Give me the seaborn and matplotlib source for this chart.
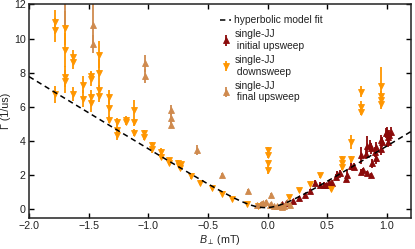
import numpy as np
import pandas as pd
import matplotlib
matplotlib.use("Agg")
import matplotlib.pyplot as plt
import seaborn as sns

# ---- data ----
# initial upsweep (dark red, up triangles)
init_B = [0.12, 0.15, 0.215, 0.26, 0.31, 0.355, 0.395, 0.44, 0.475, 0.49, 0.51, 0.535,
          0.57, 0.585, 0.61, 0.655, 0.665, 0.70, 0.725, 0.785, 0.785, 0.80, 0.825, 0.83,
          0.835, 0.86, 0.87, 0.87, 0.875, 0.90, 0.905, 0.91, 0.95, 0.95, 0.955, 1.0,
          1.005, 1.01, 1.02, 1.03, 0.99]
init_G = [0.33, 0.37, 0.49, 0.69, 0.82, 1.06, 1.55, 1.45, 1.43, 1.40, 1.59, 1.55,
          1.90, 2.05, 2.10, 1.80, 2.00, 2.53, 2.49, 3.18, 2.20, 2.29, 3.27, 3.71,
          2.10, 3.76, 3.57, 2.00, 2.69, 3.37, 3.67, 2.98, 4.06, 3.51, 3.96, 4.55,
          4.25, 3.96, 4.35, 4.55, 4.45]
init_E = [0.08, 0.08, 0.1, 0.1, 0.1, 0.12, 0.15, 0.15, 0.15, 0.12, 0.15, 0.15,
          0.15, 0.2, 0.2, 0.15, 0.3, 0.2, 0.2, 0.5, 0.15, 0.15, 0.3, 0.6,
          0.15, 0.3, 0.3, 0.15, 0.25, 0.3, 0.3, 0.3, 0.3, 0.3, 0.3, 0.3,
          0.3, 0.3, 0.3, 0.3, 0.3]

# downsweep (orange, down triangles)
down_B = [-1.78, -1.78, -1.78, -1.70, -1.70, -1.70, -1.70, -1.63, -1.63, -1.63,
          -1.55, -1.55, -1.48, -1.48, -1.48, -1.48, -1.41, -1.41, -1.41, -1.41,
          -1.33, -1.33, -1.33, -1.26, -1.26, -1.26, -1.19, -1.19, -1.12, -1.12, -1.12,
          -1.04, -1.04, -0.97, -0.97, -0.895, -0.895, -0.825, -0.825,
          -0.755, -0.74, -0.725, -0.735, -0.64, -0.57, -0.47, -0.38, -0.296,
          -0.17, -0.08, 0.0, 0.0, 0.0, 0.0, 0.178, 0.26, 0.355, 0.438, 0.527,
          0.62, 0.62, 0.62, 0.70, 0.70, 0.785, 0.785, 0.785, 0.95, 0.95, 0.95, 0.95]
down_G = [10.96, 10.53, 6.75, 10.63, 9.35, 7.78, 7.49, 8.92, 8.61, 6.75,
          7.29, 6.49, 7.82, 7.63, 6.57, 6.22, 9.06, 7.98, 7.00, 6.61,
          6.57, 5.92, 5.24, 5.14, 4.65, 4.35, 5.24, 5.14, 5.82, 5.10, 4.50,
          4.45, 4.25, 3.76, 3.51, 3.37, 3.08, 2.88, 2.73,
          2.72, 2.55, 2.65, 2.45, 1.94, 1.55, 1.27, 0.92, 0.63,
          0.31, 0.18, 3.47, 3.18, 2.69, 2.29, 0.72, 1.12, 1.48, 2.00, 1.20,
          2.94, 2.69, 2.49, 3.96, 2.92, 6.90, 6.02, 5.73, 7.24, 6.61, 6.41, 6.16]
down_E = [0.7, 0.7, 0.5, 1.0, 1.0, 0.6, 0.7, 0.4, 0.4, 0.4,
          0.5, 0.5, 0.3, 0.4, 0.4, 0.5, 0.8, 0.8, 0.3, 0.3,
          0.4, 0.7, 0.2, 0.2, 0.3, 0.3, 0.2, 0.2, 0.6, 0.2, 0.2,
          0.2, 0.2, 0.2, 0.2, 0.2, 0.15, 0.15, 0.15,
          0.15, 0.15, 0.15, 0.15, 0.15, 0.15, 0.12, 0.1, 0.1,
          0.1, 0.08, 0.2, 0.2, 0.2, 0.2, 0.1, 0.1, 0.12, 0.15, 0.12,
          0.2, 0.2, 0.2, 0.4, 0.2, 0.3, 0.3, 0.2, 1.1, 0.3, 0.3, 0.3]

# final upsweep (tan, up triangles)
fin_B = [-1.70, -1.46, -1.46, -1.024, -1.024, -0.81, -0.81, -0.81, -0.595, -0.385,
         -0.165, 0.025, -0.09, -0.06, -0.035, -0.01, 0.02, 0.03, 0.05, 0.08, 0.11,
         0.12, 0.14, 0.165, 0.185]
fin_G = [12.6, 10.82, 9.69, 8.57, 7.82, 5.82, 5.33, 4.94, 3.47, 2.00,
         1.05, 0.82, 0.25, 0.33, 0.37, 0.43, 0.24, 0.30, 0.18, 0.18, 0.24,
         0.15, 0.18, 0.41, 0.24]
fin_E = [2.1, 1.3, 0.55, 0.5, 0.4, 0.3, 0.3, 0.2, 0.3, 0.15,
         0.15, 0.12, 0.08, 0.1, 0.1, 0.1, 0.08, 0.08, 0.08, 0.08, 0.08,
         0.08, 0.08, 0.1, 0.08]

# hyperbolic model fit parameters
fit_k, fit_a, fit_g0, fit_b0 = 4.27, 0.82, 0.10, -0.02

# ---- style ----
sns.set_theme(style="ticks")
plt.rcParams["font.family"] = ["Liberation Sans", "DejaVu Sans"]
plt.rcParams["mathtext.fontset"] = "custom"
plt.rcParams["mathtext.it"] = "Liberation Sans:italic"
plt.rcParams["mathtext.rm"] = "Liberation Sans"

fig = plt.figure(figsize=(4.15, 2.49), dpi=100)
ax = fig.add_axes([0.070, 0.125, 0.920, 0.857])

c_init = "#8b0a0a"
c_down = "#ff9600"
c_fin = "#cf8a4e"

B_fit = np.linspace(-2.0, 1.2, 300)
G_fit = fit_g0 + np.sqrt(fit_a**2 + (fit_k * (B_fit - fit_b0))**2) - fit_a
fit_df = pd.DataFrame({"B": B_fit, "G": G_fit})

ekw = dict(linestyle="none", markersize=4.4, elinewidth=1.3, capsize=0,
           markeredgewidth=0.6)
h1 = ax.errorbar(init_B, init_G, yerr=init_E, fmt="^", color=c_init, zorder=2, **ekw)
h2 = ax.errorbar(down_B, down_G, yerr=down_E, fmt="v", color=c_down, zorder=2, **ekw)
h3 = ax.errorbar(fin_B, fin_G, yerr=fin_E, fmt="^", color=c_fin, zorder=2, **ekw)
sns.lineplot(data=fit_df, x="B", y="G", ax=ax, color="black", lw=1.1,
             linestyle=(0, (3.5, 2.5)), zorder=3)
hl = ax.get_lines()[-1]

ax.set_xlim(-2.0, 1.2)
ax.set_ylim(-0.5, 12)
ax.set_xticks([-2.0, -1.5, -1.0, -0.5, 0.0, 0.5, 1.0])
ax.set_yticks([0, 2, 4, 6, 8, 10, 12])
ax.tick_params(direction="in", top=True, right=True, length=3.5, width=1.0,
               labelsize=7.7, pad=2.5, color="black", labelcolor="#222222")
for s in ax.spines.values():
    s.set_linewidth(1.1)
    s.set_color("#222222")

ax.set_xlabel(r"$B_\perp$ (mT)", fontsize=7.7, labelpad=1, color="#222222")
ax.set_ylabel("Γ (1/us)", fontsize=7.7, labelpad=2, color="#222222")

leg = ax.legend([hl, h1, h2, h3],
                ["hyperbolic model fit", "single-JJ\n initial upsweep",
                 "single-JJ\n downsweep", "single-JJ\n final upsweep"],
                loc="upper left", bbox_to_anchor=(0.50, 0.95), frameon=False,
                fontsize=7.4, handlelength=1.1, handletextpad=0.3,
                labelspacing=0.4, borderpad=0, borderaxespad=0)
for t in leg.get_texts():
    t.set_color("#222222")

fig.savefig("out.png", dpi=100)
